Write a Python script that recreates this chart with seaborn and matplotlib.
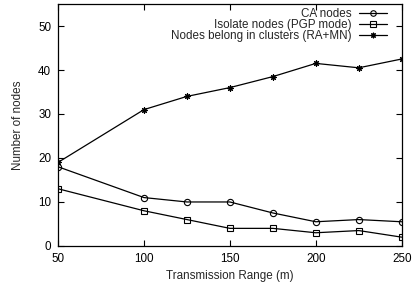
import matplotlib
matplotlib.use("Agg")
import matplotlib.pyplot as plt
import pandas as pd
import seaborn as sns

ranges = [50, 100, 125, 150, 175, 200, 225, 250]
ca_nodes = [18, 11, 10, 10, 7.5, 5.5, 6, 5.5]
isolate_nodes = [13, 8, 6, 4, 4, 3, 3.5, 2]
cluster_nodes = [19, 31, 34, 36, 38.5, 41.5, 40.5, 42.5]
series_names = ["CA nodes", "Isolate nodes (PGP mode)", "Nodes belong in clusters (RA+MN)"]

sns.set_style("ticks")
plt.rcParams["font.family"] = ["Liberation Sans", "DejaVu Sans"]
fs = 8.4
plt.rcParams["font.size"] = fs

fig = plt.figure(figsize=(4.12, 2.87), dpi=100)
ax = fig.add_axes([0.141, 0.143, 0.834, 0.843])

markers = ["o", "s", (8, 2, 0)]
for name, vals, m in zip(series_names, [ca_nodes, isolate_nodes, cluster_nodes], markers):
    df = pd.DataFrame({"range": ranges, "nodes": vals})
    sns.lineplot(data=df, x="range", y="nodes", label=name, color="black",
                 linewidth=0.9, marker=m, markersize=4.5, markerfacecolor="none",
                 markeredgecolor="black", markeredgewidth=0.8, ax=ax)

ax.set_xlim(50, 250)
ax.set_ylim(0, 55)
ax.set_xticks([50, 100, 150, 200, 250])
ax.set_yticks([0, 10, 20, 30, 40, 50])
ax.tick_params(direction="in", top=True, right=True, length=4, width=0.8,
               labelsize=fs, colors="black", pad=5)
for s in ax.spines.values():
    s.set_linewidth(0.9)
    s.set_color("black")
ax.set_xlabel("Transmission Range (m)", fontsize=fs, labelpad=4)
ax.set_ylabel("Number of nodes", fontsize=fs, labelpad=10)

leg = ax.legend(loc="upper right", bbox_to_anchor=(0.957, 0.985), frameon=False,
                markerfirst=False, handlelength=2.4, handletextpad=0.6,
                borderaxespad=0, borderpad=0, labelspacing=-0.07, fontsize=fs)
for h in leg.legend_handles:
    h.set_markersize(4)
for t in leg.get_texts():
    t.set_ha("right")

fig.savefig("out.png", dpi=100)
